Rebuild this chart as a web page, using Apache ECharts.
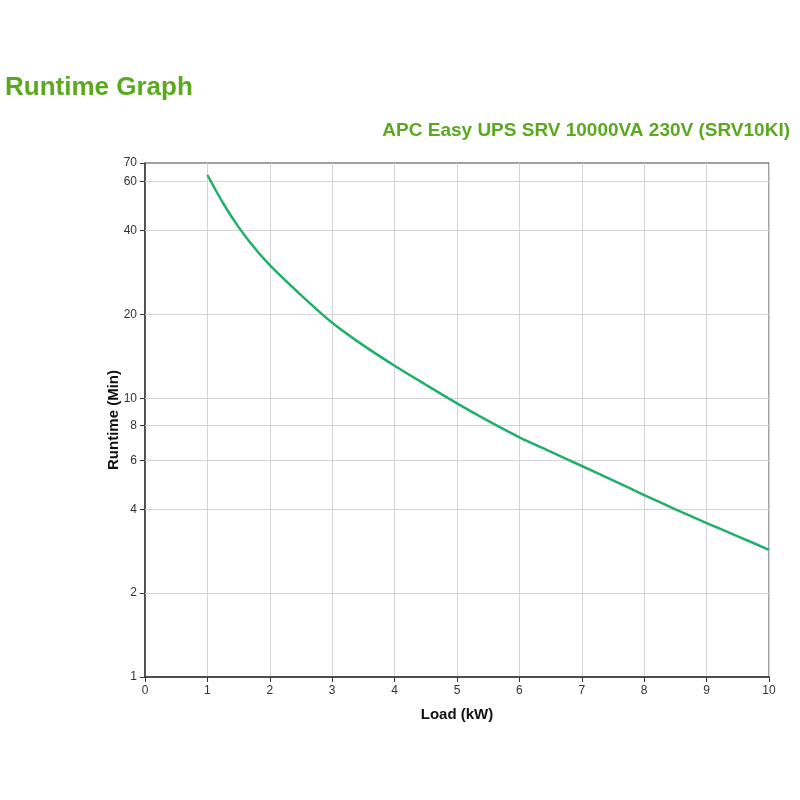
<!DOCTYPE html>
<html>
<head>
<meta charset="utf-8">
<script src="https://cdn.jsdelivr.net/npm/echarts@6/dist/echarts.min.js"></script>
<style>
  html, body { margin: 0; padding: 0; background: #fff; }
  #chart { width: 800px; height: 800px; }
</style>
</head>
<body>
<div id="chart"></div>
<script>
var loadKw = [1, 1.25, 1.5, 1.75, 2, 2.5, 3, 3.5, 4, 4.5, 5, 5.5, 6, 6.5, 7, 7.5, 8, 8.5, 9, 9.5, 10];
var runtimeMin = [63.4, 50.3, 41.2, 34.8, 30.1, 23.5, 18.7, 15.5, 13.1, 11.2, 9.6, 8.3, 7.25, 6.44, 5.72, 5.08, 4.5, 4.0, 3.57, 3.2, 2.86];
var yTicks = [1, 2, 4, 6, 8, 10, 20, 40, 60, 70];
var yGridLines = [2, 4, 6, 8, 10, 20, 40, 60];

var chart = echarts.init(document.getElementById('chart'));

var pts = [];
for (var i = 0; i < loadKw.length; i++) {
  pts.push([loadKw[i], runtimeMin[i]]);
}

var option = {
  animation: false,
  textStyle: { fontFamily: 'Liberation Sans, Arial, sans-serif' },
  title: [
    {
      text: 'Runtime Graph',
      left: 0, top: 70,
      textStyle: { color: '#5aa91f', fontSize: 26, fontWeight: 'bold', fontFamily: 'Liberation Sans' }
    },
    {
      text: 'APC Easy UPS SRV 10000VA 230V (SRV10KI)',
      right: 5, top: 116,
      textStyle: { color: '#5aa91f', fontSize: 19, fontWeight: 'bold', fontFamily: 'Liberation Sans' }
    }
  ],
  grid: {
    left: 145, right: 31, top: 163, bottom: 123,
    show: true, borderColor: '#444', borderWidth: 1
  },
  xAxis: {
    type: 'value',
    min: 0, max: 10, interval: 1,
    name: 'Load (kW)',
    nameLocation: 'middle',
    nameGap: 30,
    nameTextStyle: { color: '#111', fontSize: 15, fontWeight: 'bold' },
    axisLine: { show: true, lineStyle: { color: '#333', width: 1.5 } },
    axisTick: { show: true, length: 5, lineStyle: { color: '#333' } },
    axisLabel: { color: '#333', fontSize: 12, margin: 8 },
    splitLine: { show: true, lineStyle: { color: '#d6d2d8', width: 1 } }
  },
  yAxis: {
    type: 'log',
    logBase: 10,
    min: 1, max: 70,
    name: 'Runtime (Min)',
    nameLocation: 'middle',
    nameGap: 24,
    nameMoveOverlap: false,
    nameTextStyle: { color: '#111', fontSize: 15, fontWeight: 'bold' },
    axisLine: { show: true, lineStyle: { color: '#333', width: 1.5 } },
    axisTick: { show: true, length: 5, lineStyle: { color: '#333' }, customValues: yTicks },
    axisLabel: { color: '#333', fontSize: 12, margin: 8, customValues: yTicks },
    splitLine: { show: false },
    minorTick: { show: false },
    minorSplitLine: { show: false }
  },
  series: [
    {
      type: 'line',
      data: pts,
      smooth: 0.25,
      symbol: 'none',
      lineStyle: { color: '#1fb069', width: 2.5 },
      z: 5,
      markLine: {
        silent: true,
        symbol: 'none',
        label: { show: false },
        lineStyle: { color: '#d6d2d8', type: 'solid', width: 1 },
        z: 1,
        data: yGridLines.map(function (v) { return { yAxis: v }; })
      }
    }
  ]
};

chart.setOption(option);
</script>
</body>
</html>
